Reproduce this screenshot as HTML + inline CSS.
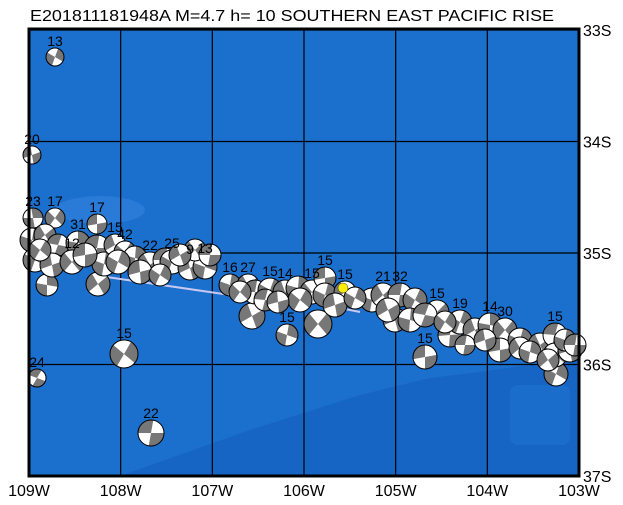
<!DOCTYPE html>
<html><head><meta charset="utf-8"><style>
body{margin:0;background:#fff;}
svg{display:block;font-family:"Liberation Sans",sans-serif;}
</style></head><body>
<svg id="map" width="623" height="505" viewBox="0 0 623 505">
<text x="30" y="21" font-size="16" textLength="524" lengthAdjust="spacingAndGlyphs">E201811181948A  M=4.7  h= 10  SOUTHERN EAST PACIFIC RISE</text>
<rect x="29" y="29" width="550" height="447" fill="#1b6fcd"/>
<polygon points="120,476 250,430 360,395 430,378 480,372 579,358 579,476" fill="#1665c4"/>
<rect x="510" y="385" width="60" height="60" rx="8" fill="#1a6dcb"/>
<ellipse cx="100" cy="210" rx="45" ry="14" fill="#2a7ad8"/>
<g id="grid"></g>
<polyline points="100,276 230,295 300,300 360,312" fill="none" stroke="#c8c8f0" stroke-width="2"/>
<g id="balls"></g>
<circle cx="343" cy="288" r="5" fill="#ffee00" stroke="#333" stroke-width="0.5"/>
<rect x="29" y="29" width="550" height="447" fill="none" stroke="#000" stroke-width="3"/>
<g id="labels" font-size="16"></g>
</svg>
<script>
const lonTicks=[-109,-108,-107,-106,-105,-104,-103];
const latTicks=[-33,-34,-35,-36,-37];
const evLon=[],evLat=[];
const evPix=[[55,57,7,"13",30],[32,155,7,"20",80],[37,378,7,"24",120],[124,354,12,"15",40],[151,433,11,"22",100],[98,284,10,"",60],[47,285,9,"",10],[252,316,11,"",70],[287,335,9,"15",20],[318,324,12,"",50],[425,357,10,"15",90],[556,374,10,"",30],
[33,218,8,"23",0],[55,218,8,"17",45],[97,224,8,"17",90],[32,240,10,"",20],[45,235,9,"",60],[58,245,9,"",110],[35,260,10,"",30],[52,265,10,"",80],[78,243,10,"31",10],[72,262,10,"12",50],[97,248,11,"",100],[104,264,10,"",20],[115,245,9,"15",70],[125,252,9,"42",40],[135,258,10,"",15],[150,265,11,"22",60],[165,260,10,"",100],[172,262,10,"25",30],[190,268,10,"9",75],[205,267,10,"13",20],[195,250,9,"",55],[140,272,10,"",85],[160,275,9,"",35],
[40,250,9,"",40],[85,255,10,"",90],[118,262,10,"",30],[180,255,9,"",70],[210,255,9,"",100],
[230,285,9,"16",20],[248,285,9,"27",60],[255,292,10,"",100],[270,290,10,"15",30],[285,292,10,"14",70],[298,288,10,"",15],[312,292,10,"15",50],[325,278,9,"15",90],[325,295,10,"",25],[345,292,9,"15",65],[265,300,9,"",105],[300,300,10,"",40],[335,305,10,"",80],[372,300,10,"",20],[383,295,10,"21",60],[400,295,10,"32",100],[415,300,10,"",35],[395,320,10,"",75],[410,320,10,"",15],[437,312,10,"15",55],[450,335,10,"",95],[460,322,10,"19",30],[475,330,10,"",70],[490,325,10,"14",10],[505,330,10,"30",50],[500,350,10,"",90],[520,340,10,"",25],[540,345,10,"",65],[555,335,10,"15",105],[555,355,10,"",40],[570,350,10,"",80],[565,340,9,"",20],[520,348,9,"",60],[465,345,8,"",100],
[240,292,9,"",45],[278,302,9,"",85],[355,298,9,"",30],[388,310,10,"",70],[425,315,10,"",110],[445,322,9,"",40],[485,340,9,"",80],[530,352,9,"",20],[548,360,9,"",60],[575,345,9,"",100]];
const L=29,R=579,T=30,B=476;
const xs=lon=>L+(lon+109)/6*(R-L);
const ys=lat=>T+(-33-lat)/4*(B-T);
evPix.forEach(p=>{evLon.push(-109+(p[0]-L)/(R-L)*6);evLat.push(-33-(p[1]-T)/(B-T)*4);});
const NS="http://www.w3.org/2000/svg";
const grid=document.getElementById('grid'),lab=document.getElementById('labels'),balls=document.getElementById('balls');
function mk(t,a,par){const e=document.createElementNS(NS,t);for(const k in a)e.setAttribute(k,a[k]);par.appendChild(e);return e;}
lonTicks.forEach(v=>{const x=xs(v);
 const l=mk('line',{x1:x,x2:x,y1:T,y2:B,stroke:'#000','stroke-width':1.2},grid);
 
 
 const t=mk('text',{x:x,y:496,'text-anchor':'middle'},lab);t.textContent=Math.abs(v)+'W';
 
 });
latTicks.forEach(v=>{const y=ys(v);
 const l=mk('line',{x1:L,x2:R,y1:y,y2:y,stroke:'#000','stroke-width':1.2},grid);
 
 
 const t=mk('text',{x:583,y:y+6},lab);t.textContent=Math.abs(v)+'S';
 
 });
evPix.forEach((p,i)=>{const cx=xs(evLon[i]),cy=ys(evLat[i]),r=p[2]+2,rot=p[4];
 const g=mk('g',{transform:`translate(${cx},${cy})`},balls);
 
 
 mk('circle',{r:r,fill:'#777'},g);
 const w=(a1,a2)=>{const A=a1*Math.PI/180,B2=a2*Math.PI/180;return `M0,0 L${r*Math.cos(A)},${r*Math.sin(A)} A${r},${r} 0 0 1 ${r*Math.cos(B2)},${r*Math.sin(B2)}Z`;};
 mk('path',{d:w(rot,rot+80),fill:'#fff'},g);
 mk('path',{d:w(rot+180,rot+260),fill:'#fff'},g);
 mk('circle',{r:r,fill:'none',stroke:'#000','stroke-width':1},g);
 if(p[3]){const t=mk('text',{x:cx,y:cy-r-2,'text-anchor':'middle','font-size':14},lab);t.textContent=p[3];
 
 }
});
</script>
</body></html>
